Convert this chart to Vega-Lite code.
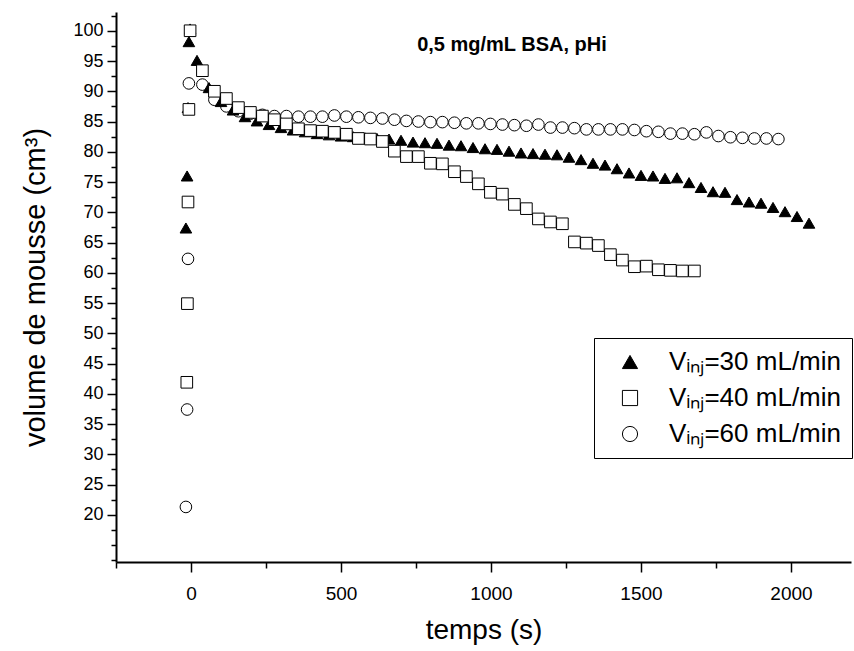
{
  "$schema": "https://vega.github.io/schema/vega-lite/v6.json",
  "width": 735,
  "height": 550,
  "autosize": {"type": "none"},
  "padding": {"left": 116, "top": 12, "right": 3, "bottom": 89},
  "background": "white",
  "config": {
    "view": {"stroke": null},
    "font": "Liberation Sans",
    "legend": {
      "strokeColor": "black", "strokeWidth": 1, "fillColor": "white",
      "padding": 11,
      "labelFont": "Liberation Sans", "labelFontSize": 26, "labelColor": "black", "labelLimit": 400,
      "rowPadding": 10, "labelOffset": 26, "symbolOffset": 12,
      "symbolSize": 230,
      "symbolStrokeWidth": 1
    }
  },
  "data": {
    "values": [
      {"serie": "Vᵢₙⱼ=60 mL/min", "t": -17, "v": 21.3},
      {"serie": "Vᵢₙⱼ=60 mL/min", "t": -13, "v": 37.4},
      {"serie": "Vᵢₙⱼ=60 mL/min", "t": -10, "v": 62.3},
      {"serie": "Vᵢₙⱼ=60 mL/min", "t": -7, "v": 91.3},
      {"serie": "Vᵢₙⱼ=60 mL/min", "t": 38, "v": 91.1},
      {"serie": "Vᵢₙⱼ=60 mL/min", "t": 78, "v": 88.6},
      {"serie": "Vᵢₙⱼ=60 mL/min", "t": 118, "v": 87.5},
      {"serie": "Vᵢₙⱼ=60 mL/min", "t": 158, "v": 86.7},
      {"serie": "Vᵢₙⱼ=60 mL/min", "t": 198, "v": 86.3},
      {"serie": "Vᵢₙⱼ=60 mL/min", "t": 238, "v": 86.1},
      {"serie": "Vᵢₙⱼ=60 mL/min", "t": 278, "v": 85.9},
      {"serie": "Vᵢₙⱼ=60 mL/min", "t": 318, "v": 85.9},
      {"serie": "Vᵢₙⱼ=60 mL/min", "t": 358, "v": 85.8},
      {"serie": "Vᵢₙⱼ=60 mL/min", "t": 398, "v": 85.8},
      {"serie": "Vᵢₙⱼ=60 mL/min", "t": 438, "v": 85.8},
      {"serie": "Vᵢₙⱼ=60 mL/min", "t": 478, "v": 86.0},
      {"serie": "Vᵢₙⱼ=60 mL/min", "t": 518, "v": 85.8},
      {"serie": "Vᵢₙⱼ=60 mL/min", "t": 558, "v": 85.7},
      {"serie": "Vᵢₙⱼ=60 mL/min", "t": 598, "v": 85.6},
      {"serie": "Vᵢₙⱼ=60 mL/min", "t": 638, "v": 85.5},
      {"serie": "Vᵢₙⱼ=60 mL/min", "t": 678, "v": 85.3},
      {"serie": "Vᵢₙⱼ=60 mL/min", "t": 718, "v": 85.1},
      {"serie": "Vᵢₙⱼ=60 mL/min", "t": 758, "v": 85.0},
      {"serie": "Vᵢₙⱼ=60 mL/min", "t": 798, "v": 84.9},
      {"serie": "Vᵢₙⱼ=60 mL/min", "t": 838, "v": 84.9},
      {"serie": "Vᵢₙⱼ=60 mL/min", "t": 878, "v": 84.8},
      {"serie": "Vᵢₙⱼ=60 mL/min", "t": 918, "v": 84.7},
      {"serie": "Vᵢₙⱼ=60 mL/min", "t": 958, "v": 84.7},
      {"serie": "Vᵢₙⱼ=60 mL/min", "t": 998, "v": 84.6},
      {"serie": "Vᵢₙⱼ=60 mL/min", "t": 1038, "v": 84.5},
      {"serie": "Vᵢₙⱼ=60 mL/min", "t": 1078, "v": 84.4},
      {"serie": "Vᵢₙⱼ=60 mL/min", "t": 1118, "v": 84.3},
      {"serie": "Vᵢₙⱼ=60 mL/min", "t": 1158, "v": 84.5},
      {"serie": "Vᵢₙⱼ=60 mL/min", "t": 1198, "v": 84.0},
      {"serie": "Vᵢₙⱼ=60 mL/min", "t": 1238, "v": 84.0},
      {"serie": "Vᵢₙⱼ=60 mL/min", "t": 1278, "v": 83.9},
      {"serie": "Vᵢₙⱼ=60 mL/min", "t": 1318, "v": 83.7},
      {"serie": "Vᵢₙⱼ=60 mL/min", "t": 1358, "v": 83.7},
      {"serie": "Vᵢₙⱼ=60 mL/min", "t": 1398, "v": 83.7},
      {"serie": "Vᵢₙⱼ=60 mL/min", "t": 1438, "v": 83.7},
      {"serie": "Vᵢₙⱼ=60 mL/min", "t": 1478, "v": 83.6},
      {"serie": "Vᵢₙⱼ=60 mL/min", "t": 1518, "v": 83.4},
      {"serie": "Vᵢₙⱼ=60 mL/min", "t": 1558, "v": 83.3},
      {"serie": "Vᵢₙⱼ=60 mL/min", "t": 1598, "v": 83.0},
      {"serie": "Vᵢₙⱼ=60 mL/min", "t": 1638, "v": 83.0},
      {"serie": "Vᵢₙⱼ=60 mL/min", "t": 1678, "v": 82.9},
      {"serie": "Vᵢₙⱼ=60 mL/min", "t": 1718, "v": 83.2},
      {"serie": "Vᵢₙⱼ=60 mL/min", "t": 1758, "v": 82.6},
      {"serie": "Vᵢₙⱼ=60 mL/min", "t": 1798, "v": 82.4},
      {"serie": "Vᵢₙⱼ=60 mL/min", "t": 1838, "v": 82.3},
      {"serie": "Vᵢₙⱼ=60 mL/min", "t": 1878, "v": 82.2},
      {"serie": "Vᵢₙⱼ=60 mL/min", "t": 1918, "v": 82.2},
      {"serie": "Vᵢₙⱼ=60 mL/min", "t": 1958, "v": 82.1},

      {"serie": "Vᵢₙⱼ=30 mL/min", "t": -17, "v": 67.4},
      {"serie": "Vᵢₙⱼ=30 mL/min", "t": -13, "v": 76.0},
      {"serie": "Vᵢₙⱼ=30 mL/min", "t": -10, "v": 87.3},
      {"serie": "Vᵢₙⱼ=30 mL/min", "t": -7, "v": 98.2},
      {"serie": "Vᵢₙⱼ=30 mL/min", "t": -3, "v": 100.3},
      {"serie": "Vᵢₙⱼ=30 mL/min", "t": 20, "v": 95.1},
      {"serie": "Vᵢₙⱼ=30 mL/min", "t": 60, "v": 90.6},
      {"serie": "Vᵢₙⱼ=30 mL/min", "t": 100, "v": 88.3},
      {"serie": "Vᵢₙⱼ=30 mL/min", "t": 140, "v": 86.9},
      {"serie": "Vᵢₙⱼ=30 mL/min", "t": 180, "v": 85.8},
      {"serie": "Vᵢₙⱼ=30 mL/min", "t": 220, "v": 85.1},
      {"serie": "Vᵢₙⱼ=30 mL/min", "t": 260, "v": 84.5},
      {"serie": "Vᵢₙⱼ=30 mL/min", "t": 300, "v": 84.0},
      {"serie": "Vᵢₙⱼ=30 mL/min", "t": 340, "v": 83.6},
      {"serie": "Vᵢₙⱼ=30 mL/min", "t": 380, "v": 83.3},
      {"serie": "Vᵢₙⱼ=30 mL/min", "t": 420, "v": 83.0},
      {"serie": "Vᵢₙⱼ=30 mL/min", "t": 460, "v": 82.8},
      {"serie": "Vᵢₙⱼ=30 mL/min", "t": 500, "v": 82.6},
      {"serie": "Vᵢₙⱼ=30 mL/min", "t": 540, "v": 82.5},
      {"serie": "Vᵢₙⱼ=30 mL/min", "t": 580, "v": 82.3},
      {"serie": "Vᵢₙⱼ=30 mL/min", "t": 620, "v": 82.2},
      {"serie": "Vᵢₙⱼ=30 mL/min", "t": 660, "v": 82.1},
      {"serie": "Vᵢₙⱼ=30 mL/min", "t": 700, "v": 81.9},
      {"serie": "Vᵢₙⱼ=30 mL/min", "t": 740, "v": 81.6},
      {"serie": "Vᵢₙⱼ=30 mL/min", "t": 780, "v": 81.5},
      {"serie": "Vᵢₙⱼ=30 mL/min", "t": 820, "v": 81.4},
      {"serie": "Vᵢₙⱼ=30 mL/min", "t": 860, "v": 81.1},
      {"serie": "Vᵢₙⱼ=30 mL/min", "t": 900, "v": 81.0},
      {"serie": "Vᵢₙⱼ=30 mL/min", "t": 940, "v": 80.7},
      {"serie": "Vᵢₙⱼ=30 mL/min", "t": 980, "v": 80.5},
      {"serie": "Vᵢₙⱼ=30 mL/min", "t": 1020, "v": 80.4},
      {"serie": "Vᵢₙⱼ=30 mL/min", "t": 1060, "v": 80.1},
      {"serie": "Vᵢₙⱼ=30 mL/min", "t": 1100, "v": 79.8},
      {"serie": "Vᵢₙⱼ=30 mL/min", "t": 1140, "v": 79.7},
      {"serie": "Vᵢₙⱼ=30 mL/min", "t": 1180, "v": 79.6},
      {"serie": "Vᵢₙⱼ=30 mL/min", "t": 1220, "v": 79.5},
      {"serie": "Vᵢₙⱼ=30 mL/min", "t": 1260, "v": 79.1},
      {"serie": "Vᵢₙⱼ=30 mL/min", "t": 1300, "v": 78.7},
      {"serie": "Vᵢₙⱼ=30 mL/min", "t": 1340, "v": 78.1},
      {"serie": "Vᵢₙⱼ=30 mL/min", "t": 1380, "v": 77.8},
      {"serie": "Vᵢₙⱼ=30 mL/min", "t": 1420, "v": 77.2},
      {"serie": "Vᵢₙⱼ=30 mL/min", "t": 1460, "v": 76.5},
      {"serie": "Vᵢₙⱼ=30 mL/min", "t": 1500, "v": 76.1},
      {"serie": "Vᵢₙⱼ=30 mL/min", "t": 1540, "v": 76.0},
      {"serie": "Vᵢₙⱼ=30 mL/min", "t": 1580, "v": 75.6},
      {"serie": "Vᵢₙⱼ=30 mL/min", "t": 1620, "v": 75.7},
      {"serie": "Vᵢₙⱼ=30 mL/min", "t": 1660, "v": 74.9},
      {"serie": "Vᵢₙⱼ=30 mL/min", "t": 1700, "v": 74.1},
      {"serie": "Vᵢₙⱼ=30 mL/min", "t": 1740, "v": 73.4},
      {"serie": "Vᵢₙⱼ=30 mL/min", "t": 1780, "v": 73.3},
      {"serie": "Vᵢₙⱼ=30 mL/min", "t": 1820, "v": 72.1},
      {"serie": "Vᵢₙⱼ=30 mL/min", "t": 1860, "v": 71.7},
      {"serie": "Vᵢₙⱼ=30 mL/min", "t": 1900, "v": 71.5},
      {"serie": "Vᵢₙⱼ=30 mL/min", "t": 1940, "v": 70.8},
      {"serie": "Vᵢₙⱼ=30 mL/min", "t": 1980, "v": 70.1},
      {"serie": "Vᵢₙⱼ=30 mL/min", "t": 2020, "v": 69.3},
      {"serie": "Vᵢₙⱼ=30 mL/min", "t": 2060, "v": 68.2},

      {"serie": "Vᵢₙⱼ=40 mL/min", "t": -14, "v": 41.9},
      {"serie": "Vᵢₙⱼ=40 mL/min", "t": -12, "v": 54.9},
      {"serie": "Vᵢₙⱼ=40 mL/min", "t": -10, "v": 71.7},
      {"serie": "Vᵢₙⱼ=40 mL/min", "t": -7, "v": 87.0},
      {"serie": "Vᵢₙⱼ=40 mL/min", "t": -3, "v": 100.0},
      {"serie": "Vᵢₙⱼ=40 mL/min", "t": 38, "v": 93.4},
      {"serie": "Vᵢₙⱼ=40 mL/min", "t": 78, "v": 90.0},
      {"serie": "Vᵢₙⱼ=40 mL/min", "t": 118, "v": 88.8},
      {"serie": "Vᵢₙⱼ=40 mL/min", "t": 158, "v": 87.3},
      {"serie": "Vᵢₙⱼ=40 mL/min", "t": 198, "v": 86.5},
      {"serie": "Vᵢₙⱼ=40 mL/min", "t": 238, "v": 85.9},
      {"serie": "Vᵢₙⱼ=40 mL/min", "t": 278, "v": 85.3},
      {"serie": "Vᵢₙⱼ=40 mL/min", "t": 318, "v": 84.6},
      {"serie": "Vᵢₙⱼ=40 mL/min", "t": 358, "v": 83.8},
      {"serie": "Vᵢₙⱼ=40 mL/min", "t": 398, "v": 83.5},
      {"serie": "Vᵢₙⱼ=40 mL/min", "t": 438, "v": 83.4},
      {"serie": "Vᵢₙⱼ=40 mL/min", "t": 478, "v": 83.2},
      {"serie": "Vᵢₙⱼ=40 mL/min", "t": 518, "v": 82.9},
      {"serie": "Vᵢₙⱼ=40 mL/min", "t": 558, "v": 82.2},
      {"serie": "Vᵢₙⱼ=40 mL/min", "t": 598, "v": 82.1},
      {"serie": "Vᵢₙⱼ=40 mL/min", "t": 638, "v": 81.7},
      {"serie": "Vᵢₙⱼ=40 mL/min", "t": 678, "v": 80.1},
      {"serie": "Vᵢₙⱼ=40 mL/min", "t": 718, "v": 79.2},
      {"serie": "Vᵢₙⱼ=40 mL/min", "t": 758, "v": 79.2},
      {"serie": "Vᵢₙⱼ=40 mL/min", "t": 798, "v": 78.1},
      {"serie": "Vᵢₙⱼ=40 mL/min", "t": 838, "v": 78.0},
      {"serie": "Vᵢₙⱼ=40 mL/min", "t": 878, "v": 76.7},
      {"serie": "Vᵢₙⱼ=40 mL/min", "t": 918, "v": 75.9},
      {"serie": "Vᵢₙⱼ=40 mL/min", "t": 958, "v": 74.7},
      {"serie": "Vᵢₙⱼ=40 mL/min", "t": 998, "v": 73.3},
      {"serie": "Vᵢₙⱼ=40 mL/min", "t": 1038, "v": 73.0},
      {"serie": "Vᵢₙⱼ=40 mL/min", "t": 1078, "v": 71.3},
      {"serie": "Vᵢₙⱼ=40 mL/min", "t": 1118, "v": 70.6},
      {"serie": "Vᵢₙⱼ=40 mL/min", "t": 1158, "v": 68.9},
      {"serie": "Vᵢₙⱼ=40 mL/min", "t": 1198, "v": 68.4},
      {"serie": "Vᵢₙⱼ=40 mL/min", "t": 1238, "v": 68.1},
      {"serie": "Vᵢₙⱼ=40 mL/min", "t": 1278, "v": 65.1},
      {"serie": "Vᵢₙⱼ=40 mL/min", "t": 1318, "v": 64.9},
      {"serie": "Vᵢₙⱼ=40 mL/min", "t": 1358, "v": 64.5},
      {"serie": "Vᵢₙⱼ=40 mL/min", "t": 1398, "v": 63.0},
      {"serie": "Vᵢₙⱼ=40 mL/min", "t": 1438, "v": 62.1},
      {"serie": "Vᵢₙⱼ=40 mL/min", "t": 1478, "v": 61.0},
      {"serie": "Vᵢₙⱼ=40 mL/min", "t": 1518, "v": 61.1},
      {"serie": "Vᵢₙⱼ=40 mL/min", "t": 1558, "v": 60.5},
      {"serie": "Vᵢₙⱼ=40 mL/min", "t": 1598, "v": 60.4},
      {"serie": "Vᵢₙⱼ=40 mL/min", "t": 1638, "v": 60.3},
      {"serie": "Vᵢₙⱼ=40 mL/min", "t": 1678, "v": 60.3}
    ]
  },
  "layer": [
    {
      "mark": {"type": "point", "filled": true, "strokeWidth": 1, "opacity": 1, "size": 135},
      "encoding": {
        "x": {
          "field": "t", "type": "quantitative",
          "scale": {"domain": [-250, 2200], "nice": false, "zero": false},
          "axis": {
            "orient": "bottom",
            "title": "temps (s)",
            "titleFont": "Liberation Sans", "titleFontSize": 28, "titleFontWeight": "normal", "titleColor": "black",
            "titlePadding": 13,
            "values": [-250, 0, 250, 500, 750, 1000, 1250, 1500, 1750, 2000],
            "tickCount": 200,
            "labelExpr": "datum.value % 500 === 0 ? datum.label : ''",
            "format": "d",
            "labelFont": "Liberation Sans", "labelFontSize": 19, "labelColor": "black",
            "labelPadding": 12,
            "labelFlush": false,
            "labelOverlap": false,
            "grid": false,
            "domainColor": "black", "domainWidth": 2,
            "tickColor": "black", "tickWidth": 1.5,
            "tickSize": {"condition": {"test": "datum.value % 500 === 0", "value": 10}, "value": 6}
          }
        },
        "y": {
          "field": "v", "type": "quantitative",
          "scale": {"domain": [12.2, 103.1], "nice": false, "zero": false},
          "axis": {
            "orient": "left",
            "title": "volume de mousse (cm³)",
            "titleFont": "Liberation Sans", "titleFontSize": 29, "titleFontWeight": "normal", "titleColor": "black",
            "titlePadding": 22,
            "values": [12.5, 15, 17.5, 20, 22.5, 25, 27.5, 30, 32.5, 35, 37.5, 40, 42.5, 45, 47.5, 50, 52.5, 55, 57.5, 60, 62.5, 65, 67.5, 70, 72.5, 75, 77.5, 80, 82.5, 85, 87.5, 90, 92.5, 95, 97.5, 100, 102.5],
            "tickCount": 200,
            "format": "d",
            "labelExpr": "(datum.value >= 20 && datum.value % 5 === 0) ? datum.label : ''",
            "labelFont": "Liberation Sans", "labelFontSize": 18, "labelColor": "black",
            "labelPadding": 4,
            "labelOverlap": false,
            "labelFlush": false,
            "grid": false,
            "domainColor": "black", "domainWidth": 2,
            "tickColor": "black", "tickWidth": 1.5,
            "tickSize": {"condition": {"test": "datum.value >= 20 && datum.value % 5 === 0", "value": 9}, "value": 5}
          }
        },
        "shape": {
          "field": "serie", "type": "nominal",
          "scale": {"domain": ["Vᵢₙⱼ=30 mL/min", "Vᵢₙⱼ=40 mL/min", "Vᵢₙⱼ=60 mL/min"], "range": ["triangle-up", "square", "circle"]},
          "legend": {"orient": "none", "legendX": 478, "legendY": 326, "title": null}
        },
        "fill": {
          "field": "serie", "type": "nominal",
          "scale": {"domain": ["Vᵢₙⱼ=30 mL/min", "Vᵢₙⱼ=40 mL/min", "Vᵢₙⱼ=60 mL/min"], "range": ["black", "white", "white"]},
          "legend": {"orient": "none", "legendX": 478, "legendY": 326, "title": null}
        },
        "stroke": {
          "field": "serie", "type": "nominal",
          "scale": {"domain": ["Vᵢₙⱼ=30 mL/min", "Vᵢₙⱼ=40 mL/min", "Vᵢₙⱼ=60 mL/min"], "range": ["black", "black", "black"]},
          "legend": {"orient": "none", "legendX": 478, "legendY": 326, "title": null}
        }
      }
    },
    {
      "data": {"values": [{"titre": "0,5 mg/mL BSA, pHi", "t": 1070, "v": 97.7}]},
      "mark": {"type": "text", "font": "Liberation Sans", "fontWeight": "bold", "fontSize": 20, "color": "black", "align": "center", "baseline": "middle"},
      "encoding": {
        "x": {"field": "t", "type": "quantitative"},
        "y": {"field": "v", "type": "quantitative"},
        "text": {"field": "titre", "type": "nominal"}
      }
    }
  ]
}
